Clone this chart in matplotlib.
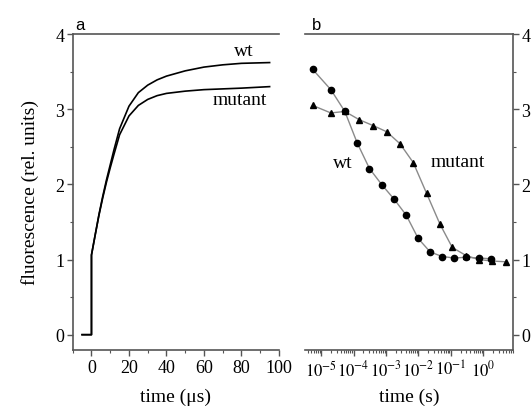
import matplotlib
matplotlib.use("Agg")
import matplotlib.pyplot as plt
from matplotlib.ticker import MultipleLocator, LogLocator, NullFormatter

# panel a: fluorescence rise, time in microseconds
t_us = [-5, 0, 0, 2, 4, 6, 8, 10, 12, 15, 20, 25, 30, 35, 40, 50, 60, 70, 80, 95]
wt_a = [0, 0, 1.06, 1.33, 1.60, 1.84, 2.06, 2.26, 2.46, 2.74, 3.04, 3.22, 3.32, 3.39,
        3.44, 3.51, 3.56, 3.59, 3.61, 3.62]
mut_a = [0, 0, 1.06, 1.33, 1.59, 1.82, 2.03, 2.22, 2.40, 2.66, 2.91, 3.05, 3.13, 3.18,
         3.21, 3.24, 3.26, 3.27, 3.28, 3.30]

# panel b: decay, time in seconds
t_wt = [5.5e-6, 2.0e-5, 5.4e-5, 1.3e-4, 3.1e-4, 7.6e-4, 1.8e-3, 4.2e-3, 9.8e-3,
        0.023, 0.054, 0.126, 0.30, 0.72, 1.7]
wt_b = [3.53, 3.26, 2.97, 2.55, 2.21, 1.99, 1.80, 1.59, 1.28, 1.10, 1.04, 1.02,
        1.03, 1.02, 1.01]
t_mut = [5.5e-6, 2.0e-5, 5.4e-5, 1.5e-4, 4.1e-4, 1.05e-3, 2.7e-3, 6.9e-3, 0.0178,
         0.046, 0.11, 0.30, 0.72, 1.78, 4.9]
mut_b = [3.05, 2.95, 2.97, 2.86, 2.78, 2.70, 2.54, 2.29, 1.88, 1.47, 1.16, 1.05,
         1.00, 0.98, 0.97]

ticks_us = [0, 20, 40, 60, 80, 100]
ticks_s = [1e-5, 1e-4, 1e-3, 1e-2, 1e-1, 1e0]
tick_labels_s = [r'$10^{-5}$', r'$10^{-4}$', r'$10^{-3}$', r'$10^{-2}$', r'$10^{-1}$', r'$10^{0}$']

plt.rcParams['font.family'] = ['Liberation Serif', 'DejaVu Serif']
plt.rcParams['mathtext.fontset'] = 'stix'
spine_col = '#555555'

fig = plt.figure(figsize=(5.32, 4.10), dpi=100)
ax1 = fig.add_axes([0.1367, 0.1446, 0.3877, 0.7700])
ax2 = fig.add_axes([0.5742, 0.1446, 0.3906, 0.7700])

# ---- panel a
ax1.plot(t_us, mut_a, color='black', lw=1.2)
ax1.plot(t_us, wt_a, color='black', lw=1.2)
ax1.set_xlim(-10, 100)
ax1.set_ylim(-0.2, 4)
ax1.set_xticks(ticks_us)
ax1.xaxis.set_minor_locator(MultipleLocator(10))
ax1.set_yticks([0, 1, 2, 3, 4])
ax1.yaxis.set_minor_locator(MultipleLocator(0.5))
ax1.spines['right'].set_visible(False)
ax1.set_xlabel('time (μs)', fontsize=14, labelpad=8)
ax1.set_ylabel('fluorescence (rel. units)', fontsize=14, labelpad=12)
ax1.text(81, 3.78, 'wt', fontsize=14, ha='center', va='center')
ax1.text(79, 3.13, 'mutant', fontsize=14, ha='center', va='center')
ax1.text(0.01, 1.005, 'a', transform=ax1.transAxes, fontsize=12,
         family='Liberation Sans', ha='left', va='bottom')

# ---- panel b
ax2.plot(t_wt, wt_b, '-', color='#8a8a8a', lw=1.0, zorder=1)
ax2.plot(t_mut, mut_b, '-', color='#8a8a8a', lw=1.0, zorder=1)
ax2.plot(t_wt, wt_b, 'o', color='black', ms=4.5, zorder=2)
ax2.plot(t_mut, mut_b, '^', color='black', ms=4.8, zorder=2)
ax2.set_xscale('log')
ax2.set_xlim(10 ** -5.48, 10 ** 0.92)
ax2.set_ylim(-0.2, 4)
ax2.set_xticks(ticks_s)
ax2.set_xticklabels(tick_labels_s)
ax2.xaxis.set_minor_locator(LogLocator(base=10, subs=range(2, 10), numticks=20))
ax2.xaxis.set_minor_formatter(NullFormatter())
ax2.set_yticks([0, 1, 2, 3, 4])
ax2.yaxis.set_minor_locator(MultipleLocator(0.5))
ax2.yaxis.tick_right()
ax2.spines['left'].set_visible(False)
ax2.set_xlabel('time (s)', fontsize=14, labelpad=6)
ax2.text(4.7e-5, 2.29, 'wt', fontsize=14, ha='center', va='center')
ax2.text(0.165, 2.30, 'mutant', fontsize=14, ha='center', va='center')
ax2.text(0.03, 1.005, 'b', transform=ax2.transAxes, fontsize=12,
         family='Liberation Sans', ha='left', va='bottom')

for ax in (ax1, ax2):
    for s in ax.spines.values():
        s.set_color(spine_col)
        s.set_linewidth(1.2)
    ax.tick_params(which='major', direction='out', length=4, width=1,
                   color=spine_col, labelsize=13, pad=2)
    ax.tick_params(which='minor', direction='out', length=2.5, width=0.8,
                   color=spine_col)
    ax.tick_params(top=False, which='both')
ax2.tick_params(axis='x', labelsize=12, pad=3)
ax1.tick_params(axis='x', pad=3)

fig.savefig('out.png', dpi=100)
